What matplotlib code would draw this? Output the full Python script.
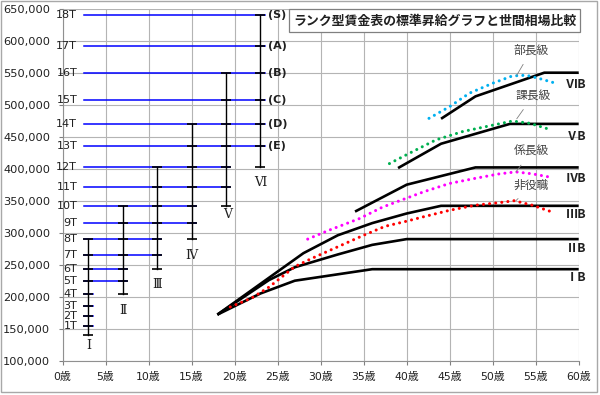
import matplotlib
matplotlib.use("Agg")
import matplotlib.pyplot as plt
from matplotlib.patches import Rectangle

plt.rcParams["font.family"] = ["DejaVu Sans", "Noto Sans CJK JP"]
JP = ["Noto Sans CJK JP", "DejaVu Sans"]

TITLE = "ランク型賃金表の標準昇給グラフと世間相場比較"

# rank table: pay at each step 0T..18T (0T = bottom of rank I, no line drawn)
T_PAY = [140000, 154000, 170000, 186000, 205000, 224000, 243000, 265000, 290000,
         315000, 342000, 371000, 402000, 436000, 470000, 508000, 550000, 592000, 640000]
T_LINE_END = [None, 3.5, 3.5, 3.5, 3.5, 7.5, 7.5, 11.5, 11.5, 15.5, 15.5,
              19.5, 19.5, 23.5, 23.5, 23.5, 23.5, 23.5, 23.5]
T_LINE_START = 2.5
GRADE_NAMES = ["(E)", "(D)", "(C)", "(B)", "(A)", "(S)"]   # on 13T..18T

RANK_NAMES = ["Ⅰ", "Ⅱ", "Ⅲ", "Ⅳ", "Ⅴ", "Ⅵ"]
RANK_X = [3, 7, 11, 15, 19, 23]
RANK_LO = [0, 4, 6, 8, 10, 12]
RANK_HI = [8, 10, 12, 14, 16, 18]
RANK_LABEL_X = [3, 7, 11, 15, 19.2, 23]
RANK_LABEL_Y = [124000, 179000, 219000, 265000, 329000, 378000]

# standard raise curves per rank (black)
AGE_1B = [18, 23, 27, 36, 60]
PAY_1B = [172000, 205000, 225000, 243000, 243000]
AGE_2B = [18, 24, 27, 32, 36, 40, 60]
PAY_2B = [172000, 226000, 246000, 266000, 281000, 290000, 290000]
AGE_3B = [18, 28, 32, 36, 40, 44, 60]
PAY_3B = [172000, 268000, 296000, 315000, 330000, 342000, 342000]
AGE_4B = [34, 40, 48, 60]
PAY_4B = [333000, 375000, 402000, 402000]
AGE_5B = [39, 44, 52, 60]
PAY_5B = [401000, 439000, 470000, 470000]
AGE_6B = [44, 48, 56, 60]
PAY_6B = [478000, 513000, 550000, 550000]
CURVE_NAMES = ["ⅠB", "ⅡB", "ⅢB", "ⅣB", "ⅤB", "ⅥB"]
CURVE_NAME_Y = [230000, 276000, 329000, 385000, 451000, 531000]

# market rates (dotted)
AGE_HI = [19.5, 22, 24, 27, 29, 32, 35, 37.5, 40, 42, 45, 48, 50.8, 52.5, 54.6, 57.2]
PAY_HI = [184000, 198000, 215000, 247000, 260000, 278000, 296000, 310000, 318000,
          325000, 335000, 343000, 347000, 350000, 343000, 331000]
AGE_KAKARI = [28.5, 31, 34.5, 37.2, 40, 42, 45, 48, 50.8, 52.7, 54.6, 56.6]
PAY_KAKARI = [290000, 304000, 322000, 340000, 354000, 364000, 377000, 385000,
              392000, 395000, 392000, 387000]
AGE_KACHO = [38, 40.3, 43.4, 46.5, 50, 52.3, 54.3, 56.6]
PAY_KACHO = [408000, 424000, 445000, 458000, 468000, 474500, 471000, 461500]
AGE_BUCHO = [42.6, 45, 47.3, 50, 52.3, 53.9, 55.4, 57.2]
PAY_BUCHO = [478700, 497000, 518000, 533500, 545000, 546000, 541000, 534000]

NOTES = ["部長級", "課長級", "係長級", "非役職"]
NOTE_TEXT_XY = [(54.5, 585000), (54.7, 514000), (54.5, 427000), (54.5, 374000)]
NOTE_TIP_XY = [(52.8, 546000), (52.8, 478000), (52.7, 395000), (52.7, 350000)]


def main():
    fig = plt.figure(figsize=(6.0, 3.95), dpi=100)
    ax = fig.add_axes([0.1042, 0.0868, 0.8603, 0.8912])
    ax.set_xlim(0, 60)
    ax.set_ylim(100000, 650000)
    ax.set_xticks(range(0, 61, 5))
    ax.set_xticklabels([f"{a}歳" for a in range(0, 61, 5)])
    ax.set_yticks(range(100000, 650001, 50000))
    ax.set_yticklabels([f"{v:,}" for v in range(100000, 650001, 50000)])
    ax.tick_params(axis="both", labelsize=8.2, colors="#808080", labelcolor="#202020",
                   length=3, width=0.8)
    ax.tick_params(axis="x", pad=5, labelsize=7.8)
    ax.tick_params(axis="y", pad=6)
    ax.grid(True, color="#b4b4b4", lw=0.8)
    ax.set_axisbelow(True)
    for s in ["top", "right"]:
        ax.spines[s].set_visible(False)
    for s in ["left", "bottom"]:
        ax.spines[s].set_color("#909090")

    # step lines of the rank table
    for i, pay in enumerate(T_PAY):
        if T_LINE_END[i] is None:
            continue
        ax.plot([T_LINE_START, T_LINE_END[i]], [pay, pay], color="#0000ff", lw=1.1, zorder=3)
        ax.text(1.7, pay, f"{i}T", ha="right", va="center", fontsize=8, color="#202020",
                zorder=6)
    for name, pay in zip(GRADE_NAMES, T_PAY[13:]):
        ax.text(23.9, pay, name, ha="left", va="center", fontsize=8, fontweight="bold",
                color="#202020")

    # rank ranges
    for x, lo, hi in zip(RANK_X, RANK_LO, RANK_HI):
        ys = T_PAY[lo:hi + 1]
        ax.plot([x] * len(ys), ys, color="black", lw=1.0, marker="_", ms=7, mew=1.2,
                zorder=4)
    for name, x, y in zip(RANK_NAMES, RANK_LABEL_X, RANK_LABEL_Y):
        ax.text(x, y, name, ha="center", va="center", fontsize=9, color="#202020",
                family=["DejaVu Serif", "Noto Sans CJK JP"])

    # standard raise curves
    curves = [(AGE_1B, PAY_1B), (AGE_2B, PAY_2B), (AGE_3B, PAY_3B),
              (AGE_4B, PAY_4B), (AGE_5B, PAY_5B), (AGE_6B, PAY_6B)]
    for ages, pays in curves:
        ax.plot(ages, pays, color="black", lw=1.9, zorder=5, solid_capstyle="butt")
    for name, y in zip(CURVE_NAMES, CURVE_NAME_Y):
        ax.text(60.9, y, name, ha="right", va="center", fontsize=8.8, fontweight="bold",
                color="#202020", family=JP, clip_on=False)

    # market rates
    dots = dict(lw=2.2, linestyle=(0, (0.01, 2.0)), dash_capstyle="round", zorder=6)
    ax.plot(AGE_HI, PAY_HI, color="#ff0000", **dots)
    ax.plot(AGE_KAKARI, PAY_KAKARI, color="#ff00ff", **dots)
    ax.plot(AGE_KACHO, PAY_KACHO, color="#00b050", **dots)
    ax.plot(AGE_BUCHO, PAY_BUCHO, color="#00b0f0", **dots)

    for note, txy, tip in zip(NOTES, NOTE_TEXT_XY, NOTE_TIP_XY):
        ax.annotate(note, xy=tip, xytext=txy, ha="center", va="center", fontsize=8.5,
                    color="#404040", family=JP, zorder=7,
                    arrowprops=dict(arrowstyle="-", color="#808080", lw=0.6,
                                    shrinkA=4, shrinkB=0))

    # title box
    fig.patches.append(Rectangle((289 / 600, 1 - 32 / 395), 291 / 600, 23 / 395,
                                 transform=fig.transFigure, facecolor="white",
                                 edgecolor="#808080", lw=0.9, zorder=10))
    fig.text(434.5 / 600, 1 - 20.5 / 395, TITLE, ha="center", va="center",
             fontsize=9.3, fontweight="bold", family=JP, color="#202020", zorder=11)

    # outer frame
    fig.patches.append(Rectangle((1 / 600, 1 - 391.5 / 395), 595.5 / 600, 390.5 / 395,
                                 transform=fig.transFigure, fill=False,
                                 edgecolor="#a8a8a8", lw=1.0, zorder=0))

    fig.savefig("out.png", dpi=100)
    plt.close(fig)


if __name__ == "__main__":
    main()
